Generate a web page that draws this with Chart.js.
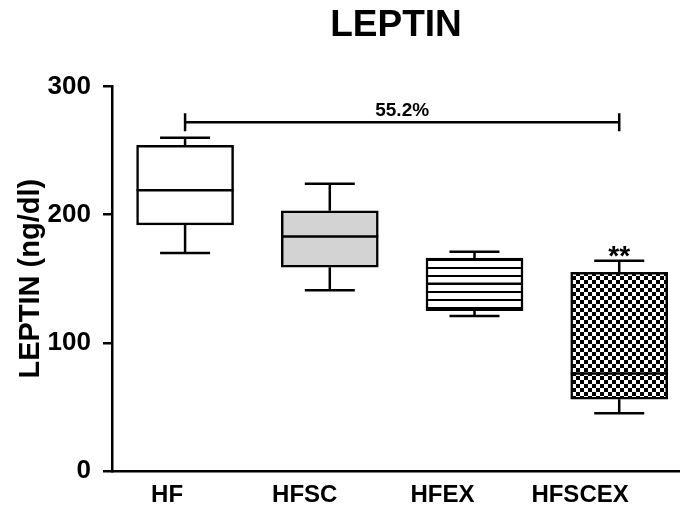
<!DOCTYPE html>
<html lang="en">
<head>
<meta charset="UTF-8">
<title>Leptin</title>
<script src="https://cdn.jsdelivr.net/npm/chart.js"></script>
<style>
  html, body { margin: 0; padding: 0; background: #fff; }
</style>
</head>
<body>
<canvas id="leptinChart" width="680" height="505"></canvas>
<script>
    // values
    const groups  = ['HF', 'HFSC', 'HFEX', 'HFSCEX'];
    const mins    = [170, 141, 121, 45];
    const q1s     = [192, 159, 125, 56];
    const medians = [219, 183, 146, 76];
    const q3s     = [254, 203, 166, 155];
    const maxs    = [260, 224, 171, 164];
    const yTicks  = [0, 100, 200, 300];
    const bracketValue = 272;
    const bracketLabel = '55.2%';
    const starLabel = '**';

    Chart.defaults.font.family = "'Liberation Sans', Arial, sans-serif";
    Chart.defaults.color = '#000';

    const canvas = document.getElementById('leptinChart');
    const ctx = canvas.getContext('2d');

    // fill patterns
    function stripePattern() {
        const c = document.createElement('canvas');
        c.width = 8; c.height = 8;
        const g = c.getContext('2d');
        g.fillStyle = '#fff'; g.fillRect(0, 0, 8, 8);
        g.fillStyle = '#000'; g.fillRect(0, 3, 8, 2);
        return ctx.createPattern(c, 'repeat');
    }
    function checkerPattern() {
        const c = document.createElement('canvas');
        c.width = 8; c.height = 8;
        const g = c.getContext('2d');
        g.fillStyle = '#fff'; g.fillRect(0, 0, 8, 8);
        g.fillStyle = '#000';
        g.fillRect(0, 0, 4, 4);
        g.fillRect(4, 4, 4, 4);
        return ctx.createPattern(c, 'repeat');
    }

    // whiskers, medians, bracket and stars
    const boxExtras = {
        id: 'boxExtras',
        afterDatasetsDraw(chart) {
            const { ctx, scales: { x, y } } = chart;
            const meta = chart.getDatasetMeta(0);
            ctx.save();
            ctx.strokeStyle = '#000';
            ctx.lineWidth = 2.5;
            groups.forEach((g, i) => {
                const cx = x.getPixelForValue(i);
                const bar = meta.data[i];
                const half = bar.width / 2;
                const yMax = y.getPixelForValue(maxs[i]);
                const yMin = y.getPixelForValue(mins[i]);
                ctx.beginPath();
                ctx.moveTo(cx, y.getPixelForValue(q3s[i]));
                ctx.lineTo(cx, yMax);
                ctx.moveTo(cx - 25, yMax);
                ctx.lineTo(cx + 25, yMax);
                ctx.moveTo(cx, y.getPixelForValue(q1s[i]));
                ctx.lineTo(cx, yMin);
                ctx.moveTo(cx - 25, yMin);
                ctx.lineTo(cx + 25, yMin);
                const ym = y.getPixelForValue(medians[i]);
                ctx.moveTo(bar.x - half, ym);
                ctx.lineTo(bar.x + half, ym);
                ctx.stroke();
            });

            // bracket HF -> HFSCEX
            const by = y.getPixelForValue(bracketValue);
            const bx0 = x.getPixelForValue(0);
            const bx1 = x.getPixelForValue(3);
            ctx.beginPath();
            ctx.moveTo(bx0, by - 9); ctx.lineTo(bx0, by + 9);
            ctx.moveTo(bx0, by); ctx.lineTo(bx1, by);
            ctx.moveTo(bx1, by - 9); ctx.lineTo(bx1, by + 9);
            ctx.stroke();

            ctx.fillStyle = '#000';
            ctx.textAlign = 'center';
            ctx.textBaseline = 'alphabetic';
            ctx.font = "bold 19px 'Liberation Sans', Arial, sans-serif";
            ctx.fillText(bracketLabel, (bx0 + bx1) / 2, by - 6);

            ctx.font = "bold 28px 'Liberation Sans', Arial, sans-serif";
            ctx.fillText(starLabel, x.getPixelForValue(3), y.getPixelForValue(maxs[3]) + 4);
            ctx.restore();
        }
    };

    new Chart(ctx, {
        type: 'bar',
        data: {
            datasets: [{
                data: groups.map((g, i) => ({ x: i, y: [q1s[i], q3s[i]] })),
                backgroundColor: ['#ffffff', '#d3d3d3', stripePattern(), checkerPattern()],
                borderColor: '#000',
                borderWidth: 2.5,
                borderSkipped: false,
                barThickness: 97
            }]
        },
        options: {
            responsive: false,
            animation: false,
            layout: { padding: { left: 0, right: 0, top: 0, bottom: 0 } },
            plugins: {
                legend: { display: false },
                tooltip: { enabled: false },
                title: {
                    display: true,
                    text: 'LEPTIN',
                    fullSize: false,
                    color: '#000',
                    font: { size: 37, weight: 'bold' },
                    padding: { top: 4, bottom: 38 }
                }
            },
            scales: {
                x: {
                    type: 'linear',
                    position: 'bottom',
                    offset: false,
                    min: -0.505,
                    max: 3.42,
                    weight: 0,
                    grid: { display: false, drawTicks: false },
                    ticks: { display: false },
                    border: { display: true, color: '#000', width: 2.5 },
                    afterFit(scale) { scale.height = 0; }
                },
                xl: {
                    axis: 'x',
                    type: 'linear',
                    position: 'bottom',
                    offset: false,
                    min: -0.40,
                    max: 3.726,
                    weight: 1,
                    grid: { display: false, drawTicks: false },
                    border: { display: false },
                    afterBuildTicks(scale) {
                        scale.ticks = groups.map((g, i) => ({ value: i }));
                    },
                    ticks: {
                        autoSkip: false,
                        maxRotation: 0,
                        padding: 10,
                        color: '#000',
                        font: { size: 24, weight: 'bold' },
                        callback: (v) => groups[v]
                    },
                    afterFit(scale) { scale.height = 34; }
                },
                y: {
                    min: 0,
                    max: 300,
                    afterBuildTicks(scale) {
                        scale.ticks = yTicks.map(v => ({ value: v }));
                    },
                    grid: {
                        display: true,
                        drawOnChartArea: false,
                        drawTicks: true,
                        tickLength: 9,
                        color: '#000',
                        lineWidth: 2.5
                    },
                    border: { display: true, color: '#000', width: 2.5 },
                    ticks: {
                        padding: 12,
                        color: '#000',
                        font: { size: 26, weight: 'bold' }
                    },
                    title: {
                        display: true,
                        text: 'LEPTIN (ng/dl)',
                        color: '#000',
                        font: { size: 29, weight: 'bold' },
                        padding: { top: 14, bottom: 0 }
                    },
                    afterFit(scale) { scale.width = 112; }
                }
            }
        },
        plugins: [boxExtras]
    });
</script>
</body>
</html>
